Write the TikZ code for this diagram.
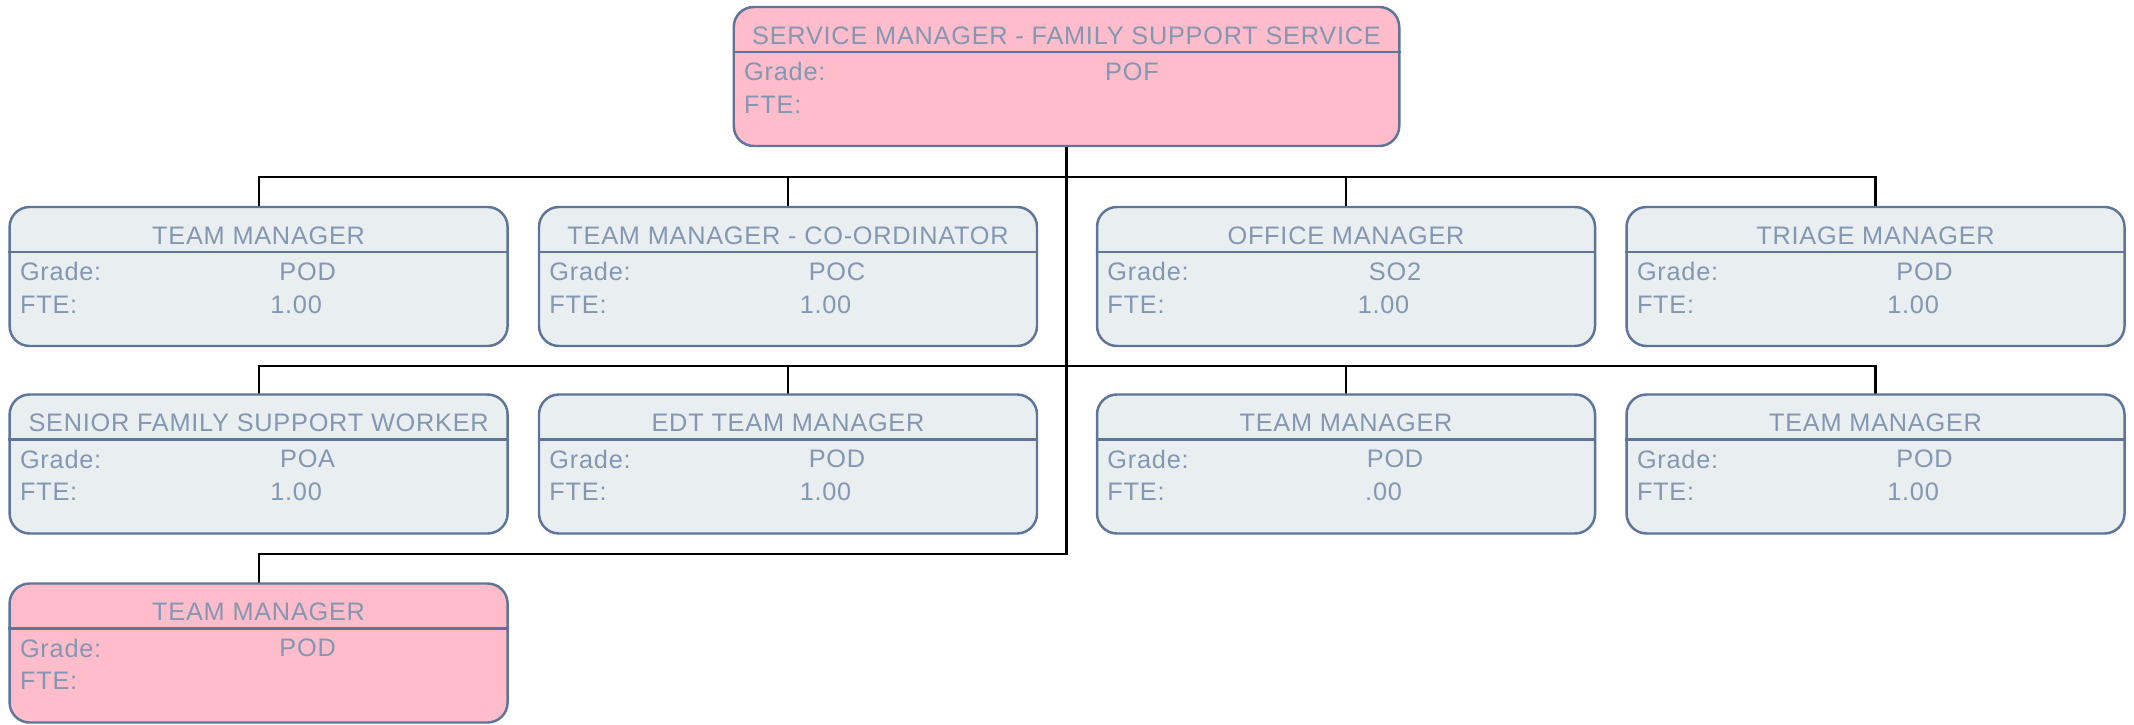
\documentclass[tikz,border=0pt]{standalone}
\usepackage{fontspec}
\setmainfont{Liberation Sans}[LetterSpace=3]
\usepackage{xcolor}
\usetikzlibrary{calc}
\definecolor{postpink}{HTML}{FFBCCA}
\definecolor{postgrey}{HTML}{E9EEF1}
\definecolor{postedge}{HTML}{5E7499}
\definecolor{posttext}{HTML}{8497B2}
\tikzset{
  postbox/.style={draw=postedge, line width=0.7pt, rounded corners=2mm, fill=postgrey,
    minimum width=4.98cm, minimum height=1.39cm, inner sep=0pt},
  postvacant/.style={postbox, fill=postpink},
  posthead/.style={postvacant, minimum width=6.655cm},
  posttitle/.style={text=posttext, font=\fontsize{7.2}{8}\selectfont, inner sep=0pt},
  postlabel/.style={posttitle, anchor=west},
  postrule/.style={draw=postedge, line width=0.7pt},
  orgline/.style={line width=0.6pt, draw=black},
}
% name, x, y, style, title, grade, fte
\newcommand{\orgpost}[7]{%
  \node[#4] (#1) at (#2,#3) {};
  \node[posttitle] at ([yshift=-0.30cm]#1.north) {#5};
  \draw[postrule] ([yshift=-0.46cm]#1.north west) -- ([yshift=-0.46cm]#1.north east);
  \node[postlabel] at ([xshift=0.11cm,yshift=-0.66cm]#1.north west) {Grade:};
  \node[postlabel] at ([xshift=0.11cm,yshift=-0.99cm]#1.north west) {FTE:};
  \node[posttitle] at ([yshift=-0.66cm]$(#1.north west)!0.598!(#1.north east)$) {#6};
  \node[posttitle] at ([yshift=-0.99cm]$(#1.north west)!0.575!(#1.north east)$) {#7};
}

\begin{document}
\begin{tikzpicture}
\useasboundingbox (0,0) rectangle (21.34,-7.25);
% connectors first, boxes over them
\coordinate (trunk) at (10.665,-1.46);
\draw[orgline] (trunk) -- ++(0,-0.31) -| (2.586,-2.07);
\draw[orgline] (trunk) -- ++(0,-0.31) -| (7.880,-2.07);
\draw[orgline] (trunk) -- ++(0,-0.31) -| (13.460,-2.07);
\draw[orgline] (trunk) -- ++(0,-0.31) -| (18.755,-2.07);
\draw[orgline] (trunk) -- ++(0,-2.20) -| (2.586,-3.95);
\draw[orgline] (trunk) -- ++(0,-2.20) -| (7.880,-3.95);
\draw[orgline] (trunk) -- ++(0,-2.20) -| (13.460,-3.95);
\draw[orgline] (trunk) -- ++(0,-2.20) -| (18.755,-3.95);
\draw[orgline] (trunk) -- ++(0,-4.08) -| (2.586,-5.84);
% posts
\orgpost{svcmgr}{10.665}{-0.765}{posthead}{SERVICE MANAGER - FAMILY SUPPORT SERVICE}{POF}{}
\orgpost{teammgr}{2.586}{-2.765}{postbox}{TEAM MANAGER}{POD}{1.00}
\orgpost{coord}{7.880}{-2.765}{postbox}{TEAM MANAGER - CO-ORDINATOR}{POC}{1.00}
\orgpost{office}{13.460}{-2.765}{postbox}{OFFICE MANAGER}{SO2}{1.00}
\orgpost{triage}{18.755}{-2.765}{postbox}{TRIAGE MANAGER}{POD}{1.00}
\orgpost{sfsw}{2.586}{-4.640}{postbox}{SENIOR FAMILY SUPPORT WORKER}{POA}{1.00}
\orgpost{edt}{7.880}{-4.640}{postbox}{EDT TEAM MANAGER}{POD}{1.00}
\orgpost{teamb}{13.460}{-4.640}{postbox}{TEAM MANAGER}{POD}{.00}
\orgpost{teamc}{18.755}{-4.640}{postbox}{TEAM MANAGER}{POD}{1.00}
\orgpost{vacant}{2.586}{-6.530}{postvacant}{TEAM MANAGER}{POD}{}
\end{tikzpicture}
\end{document}
